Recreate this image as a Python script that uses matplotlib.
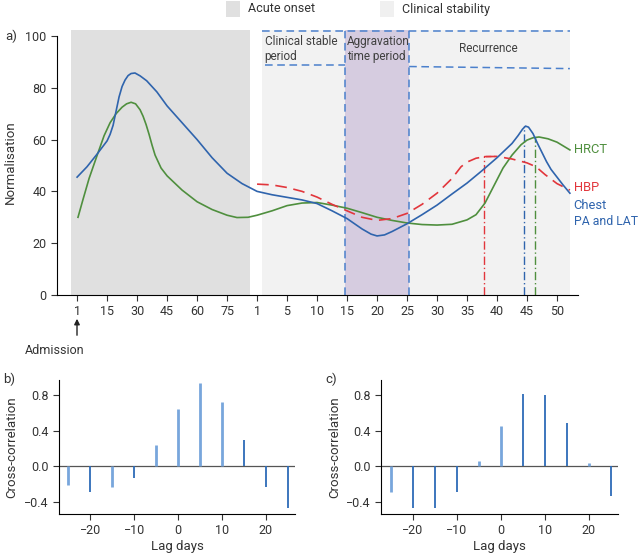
import numpy as np
import matplotlib.pyplot as plt
from matplotlib.patches import Rectangle

plt.rcParams['font.family'] = ['Roboto', 'DejaVu Sans']
plt.rcParams['font.size'] = 9

# x axis of panel a: two segments (acute onset days, then clinical stability days)
tick_labels = ['1', '15', '30', '45', '60', '75', '1', '5', '10', '15', '20',
               '25', '30', '35', '40', '45', '50']
tick_pos = np.arange(len(tick_labels))

# Chest PA and LAT (blue)
chest_x = [0, 0.33, 0.66, 1.0, 1.1, 1.2, 1.3, 1.4, 1.5, 1.6, 1.7, 1.8, 1.93,
           2.1, 2.32, 2.66, 3, 3.5, 4, 4.5, 5, 5.5, 6, 6.5, 7, 7.5, 8, 8.5, 9,
           9.5, 9.8, 10, 10.25, 10.5, 11, 11.5, 12, 12.5, 13, 13.5, 14, 14.5,
           14.7, 14.85, 14.95, 15.05, 15.2, 15.35, 15.5, 15.65, 15.8, 16, 16.2,
           16.43]
chest_y = [45.5, 49.5, 54.3, 59.5, 62, 65.5, 71, 76.5, 80.5, 83, 84.7, 85.5,
           85.7, 84.6, 82.7, 78.4, 73, 66.5, 60, 53, 47, 43, 40, 38.7, 37.7,
           36.7, 35.3, 32.5, 29.5, 25.5, 23.5, 22.8, 23.2, 24.5, 27.5, 31, 34.7,
           39, 43.2, 48, 53, 58.5, 61.5, 64, 65.2, 64.8, 62.3, 58.5, 55, 51.5,
           48.5, 45.5, 42.5, 39.3]

# HRCT (green)
hrct_x = [0.03, 0.2, 0.4, 0.67, 0.9, 1.1, 1.3, 1.5, 1.65, 1.8, 1.95, 2.1, 2.2,
          2.3, 2.4, 2.5, 2.6, 2.8, 3, 3.5, 4, 4.5, 5, 5.33, 5.7, 6, 6.5, 7, 7.5,
          8, 8.5, 9, 9.5, 10, 10.5, 11, 11.5, 12, 12.5, 13, 13.3, 13.6, 13.8,
          14, 14.2, 14.5, 14.8, 15, 15.2, 15.4, 15.7, 16, 16.43]
hrct_y = [30, 37, 45, 54, 61.5, 66.5, 70, 72.5, 73.8, 74.4, 73.8, 71.5, 69,
          65.8, 62, 57.8, 54, 49, 46, 40.5, 36, 33, 30.8, 29.9, 30, 30.8, 32.5,
          34.5, 35.5, 35.7, 34.7, 33.5, 31.8, 30, 28.8, 27.8, 27.2, 27, 27.3,
          29, 31, 35.5, 40, 44.5, 49, 54, 58, 59.8, 60.7, 61, 60.3, 59, 56]

# HBP (red, dashed)
hbp_x = [6, 6.5, 7, 7.5, 8, 8.5, 9, 9.5, 10, 10.5, 11, 11.5, 12, 12.5, 12.8,
         13, 13.3, 13.6, 14, 14.5, 15, 15.3, 15.6, 16, 16.43]
hbp_y = [42.8, 42.5, 41.5, 40, 37.8, 35, 32.5, 30, 28.8, 29.5, 31.5, 35, 39.3,
         45, 49.5, 51.3, 52.8, 53.4, 53.5, 52.5, 51, 49.5, 46.5, 43, 40.5]

# peak markers (x position, height)
hbp_peak = (13.57, 53.6)
chest_peak = (14.9, 65.2)
hrct_peak = (15.28, 61)

# cross-correlation panels
lags = [-25, -20, -15, -10, -5, 0, 5, 10, 15, 20, 25]
ccf_b = [-0.21, -0.28, -0.23, -0.13, 0.24, 0.64, 0.93, 0.72, 0.29, -0.23, -0.46]
ccf_c = [-0.28, -0.46, -0.46, -0.28, 0.06, 0.45, 0.81, 0.80, 0.49, 0.04, -0.33]
light_b = [1, 0, 1, 0, 1, 1, 1, 1, 0, 0, 0]
light_c = [1, 0, 0, 0, 1, 1, 0, 0, 0, 1, 0]

BLUE = '#2f64ad'
GREEN = '#4f8f3e'
RED = '#e2363c'
DASHBLUE = '#4b80cc'

fig = plt.figure(figsize=(6.42, 5.54), dpi=100)

# ---------------- panel a ----------------
ax = fig.add_axes([57 / 642, 259 / 554, 521 / 642, 265 / 554])
ax.set_xlim(-0.67, 16.7)
ax.set_ylim(0, 102.3)

ax.add_patch(Rectangle((-0.2, 0), 5.97, 102.2, color='#e0e0e0', lw=0, zorder=0))
ax.add_patch(Rectangle((6.17, 0), 10.26, 102.2, color='#f2f2f2', lw=0, zorder=0))
ax.add_patch(Rectangle((8.93, 0), 2.14, 102.2, color='#d6cce0', lw=0, zorder=0.5))

dash = dict(color=DASHBLUE, lw=1.1, ls=(0, (5, 3)), zorder=1)
ax.plot([8.93, 8.93], [0, 102], **dash)
ax.plot([11.07, 11.07], [0, 102], **dash)
ax.plot([6.17, 16.43], [101.8, 101.8], **dash)
ax.plot([6.25, 8.93], [88.7, 88.7], **dash)
ax.plot([11.07, 16.43], [88.2, 87.4], **dash)

ax.text(6.25, 95, 'Clinical stable\nperiod', fontsize=8.5, color='#404040',
        va='center', ha='left', linespacing=1.25)
ax.text(9.0, 95, 'Aggravation\ntime period', fontsize=8.5, color='#404040',
        va='center', ha='left', linespacing=1.25)
ax.text(13.7, 95, 'Recurrence', fontsize=8.5, color='#404040', va='center',
        ha='center')

ax.plot(hrct_x, hrct_y, color=GREEN, lw=1.2, zorder=3)
ax.plot(chest_x, chest_y, color=BLUE, lw=1.2, zorder=4)
ax.plot(hbp_x, hbp_y, color=RED, lw=1.2, ls=(0, (7, 4)), zorder=3)

dd = (0, (6, 2, 1, 2))
ax.plot([hbp_peak[0], hbp_peak[0], 13.95], [0, hbp_peak[1], hbp_peak[1]],
        color=RED, lw=1.0, ls=dd, zorder=2)
ax.plot([chest_peak[0]] * 2, [0, chest_peak[1]], color=BLUE, lw=1.0, ls=dd, zorder=2)
ax.plot([hrct_peak[0]] * 2, [0, hrct_peak[1]], color=GREEN, lw=1.0, ls=dd, zorder=2)

ax.text(16.55, 56, 'HRCT', color=GREEN, fontsize=9.3, va='center')
ax.text(16.55, 41.5, 'HBP', color=RED, fontsize=9.3, va='center')
ax.text(16.55, 34.5, 'Chest', color=BLUE, fontsize=9.3, va='center')
ax.text(16.55, 28.3, 'PA and LAT', color=BLUE, fontsize=8.8, va='center')

for s in ['top', 'right']:
    ax.spines[s].set_visible(False)
ax.spines['left'].set_bounds(0, 100)
ax.set_xticks(tick_pos)
ax.set_xticklabels(tick_labels)
ax.set_yticks(np.arange(0, 101, 20))
ax.tick_params(length=4, width=0.8, colors='#333333', labelsize=9)
ax.set_ylabel('Normalisation', fontsize=9.5, color='#333333', labelpad=6)
ax.text(-0.1, 100 / 102.3, 'a)', transform=ax.transAxes, fontsize=9.5,
        color='#333333', va='center')

ax.annotate('', xy=(77 / 642, 1 - 316 / 554), xytext=(77 / 642, 1 - 338 / 554),
            xycoords='figure fraction',
            arrowprops=dict(arrowstyle='-|>', color='#222222', lw=1.0,
                            mutation_scale=8))
fig.text(25 / 642, 1 - 350 / 554, 'Admission', fontsize=9, color='#333333',
         va='center')

# legend on top
fig.patches.append(Rectangle((226 / 642, 1 - 17 / 554), 14 / 642, 16 / 554,
                             transform=fig.transFigure, color='#e0e0e0', lw=0))
fig.text(248 / 642, 1 - 9 / 554, 'Acute onset', fontsize=9, color='#333333',
         va='center')
fig.patches.append(Rectangle((380 / 642, 1 - 17 / 554), 14 / 642, 16 / 554,
                             transform=fig.transFigure, color='#f0f0f0', lw=0))
fig.text(402 / 642, 1 - 9 / 554, 'Clinical stability', fontsize=9,
         color='#333333', va='center')


# ---------------- panels b and c ----------------
def ccf_panel(rect, vals, light, tag):
    a = fig.add_axes(rect)
    a.set_xlim(-27.2, 26.7)
    a.set_ylim(-0.53, 0.97)
    for lag, v, lt in zip(lags, vals, light):
        if lt:
            a.plot([lag, lag], [0, v], color='#78a6dc', lw=2.0, solid_capstyle='butt')
        else:
            a.plot([lag, lag], [0, v], color='#2d6bb8', lw=1.3, solid_capstyle='butt')
    a.axhline(0, color='#555555', lw=0.9, zorder=0)
    for s in ['top', 'right']:
        a.spines[s].set_visible(False)
    a.set_yticks([-0.4, 0.0, 0.4, 0.8])
    a.set_yticklabels(['\u22120.4', '0.0', '0.4', '0.8'])
    a.set_xticks([-20, -10, 0, 10, 20])
    a.set_xticklabels(['\u221220', '\u221210', '0', '10', '20'])
    a.tick_params(length=4, width=0.8, colors='#333333', labelsize=9)
    a.set_xlabel('Lag days', fontsize=9.5, color='#333333', labelpad=2)
    a.set_ylabel('Cross-correlation', fontsize=9.5, color='#333333', labelpad=4)
    a.text(-0.235, 1.0, tag, transform=a.transAxes, fontsize=9.5, color='#333333',
           va='center')
    return a


ccf_panel([58.7 / 642, 40 / 554, 236.6 / 642, 134.5 / 554], ccf_b, light_b, 'b)')
ccf_panel([381.3 / 642, 40 / 554, 237 / 642, 134.5 / 554], ccf_c, light_c, 'c)')

fig.savefig('out.png', dpi=100)
